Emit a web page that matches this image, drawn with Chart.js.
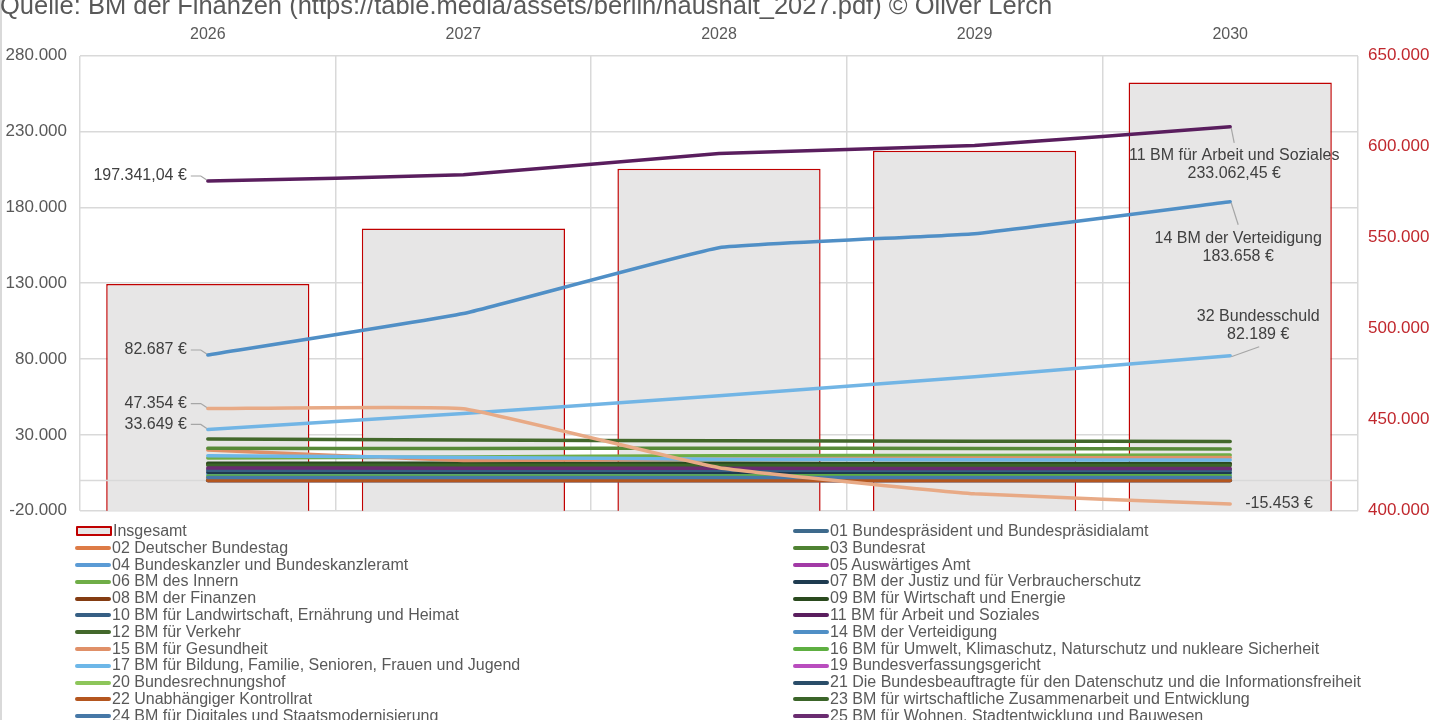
<!DOCTYPE html>
<html lang="de">
<head>
<meta charset="UTF-8">
<title>Bundeshaushalt 2026 - 2030</title>
<script src="https://cdn.jsdelivr.net/npm/chart.js"></script>
<style>
  html, body { margin: 0; padding: 0; background: #fff; overflow: hidden; }
  body { width: 1440px; height: 720px; position: relative; font-family: "Liberation Sans", Arial, sans-serif; }
  #rahmen { position: absolute; left: 0; top: 0; width: 1.5px; height: 720px; background: #D9D9D9; }
  #box { position: absolute; left: 0; top: -8px; width: 1440px; height: 542px; }
  #legende { position: absolute; left: 75px; top: 523px; width: 1365px; display: grid;
             grid-template-columns: 718px 647px; font-size: 16px; line-height: 16.8px; color: #595959; }
  .eintrag { display: flex; align-items: center; white-space: nowrap; }
  .eintrag i { display: inline-block; width: 36px; height: 4px; border-radius: 2px; margin-right: 1px; flex: none; }
  .eintrag i.balken { width: 32px; height: 6px; border: 2px solid #C00000; background: #E7E6E6; border-radius: 1px; margin-left: 1px; }
</style>
</head>
<body>
<div id="rahmen"></div>
<div id="box"><canvas id="grafik"></canvas></div>
<div id="legende"></div>

<script>
// Werte in Mio. Euro
const jahre = ['2026', '2027', '2028', '2029', '2030'];
const insgesamt = [524500, 555100, 587900, 597800, 635200];

const ep01 = [60, 60, 60, 60, 60];
const ep02 = [1250, 1250, 1250, 1250, 1250];
const ep03 = [40, 40, 40, 40, 40];
const ep04 = [4300, 4200, 4200, 4200, 4200];
const ep05 = [7400, 7300, 7200, 7200, 7200];
const ep06 = [14800, 15500, 16300, 16500, 16700];
const ep07 = [5400, 5400, 5300, 5300, 5300];
const ep08 = [10600, 10700, 10700, 10800, 10800];
const ep09 = [11400, 11300, 11300, 11200, 11200];
const ep10 = [6800, 6800, 6700, 6700, 6700];
const ep11 = [197341.04, 201500, 215400, 220700, 233062.45];
const ep12 = [27300, 26600, 26200, 25900, 25700];
const ep14 = [82687, 110000, 153400, 162600, 183658];
const ep15 = [20100, 13200, 14200, 14800, 15100];
const ep16 = [3000, 3000, 3000, 3100, 3100];
const ep17 = [16300, 15200, 14000, 13600, 13400];
const ep19 = [40, 40, 40, 40, 40];
const ep20 = [190, 190, 190, 190, 190];
const ep21 = [50, 50, 50, 50, 50];
const ep22 = [20, 20, 20, 20, 20];
const ep23 = [10100, 10000, 9900, 9900, 9900];
const ep24 = [1900, 1900, 1900, 1900, 1900];
const ep25 = [8200, 8100, 8000, 7900, 7900];
const ep30 = [21300, 21000, 21300, 21000, 20700];
const ep32 = [33649, 44200, 55800, 68400, 82189];
const ep60 = [47354, 47300, 8400, -8800, -15453];

const namen = [
  '01 Bundespräsident und Bundespräsidialamt', '02 Deutscher Bundestag', '03 Bundesrat',
  '04 Bundeskanzler und Bundeskanzleramt', '05 Auswärtiges Amt', '06 BM des Innern',
  '07 BM der Justiz und für Verbraucherschutz', '08 BM der Finanzen', '09 BM für Wirtschaft und Energie',
  '10 BM für Landwirtschaft, Ernährung und Heimat', '11 BM für Arbeit und Soziales', '12 BM für Verkehr',
  '14 BM der Verteidigung', '15 BM für Gesundheit',
  '16 BM für Umwelt, Klimaschutz, Naturschutz und nukleare Sicherheit',
  '17 BM für Bildung, Familie, Senioren, Frauen und Jugend', '19 Bundesverfassungsgericht',
  '20 Bundesrechnungshof', '21 Die Bundesbeauftragte für den Datenschutz und die Informationsfreiheit',
  '22 Unabhängiger Kontrollrat', '23 BM für wirtschaftliche Zusammenarbeit und Entwicklung',
  '24 BM für Digitales und Staatsmodernisierung', '25 BM für Wohnen, Stadtentwicklung und Bauwesen',
  '30 BM für Forschung, Technologie und Raumfahrt', '32 Bundesschuld', '60 Allgemeine Finanzverwaltung'
];
const reihen = [ep01, ep02, ep03, ep04, ep05, ep06, ep07, ep08, ep09, ep10, ep11, ep12, ep14,
                ep15, ep16, ep17, ep19, ep20, ep21, ep22, ep23, ep24, ep25, ep30, ep32, ep60];
const farben = ['#3E6A8C', '#DD7B46', '#4F8232', '#5B9BD5', '#A23AA6', '#6FAD47', '#1E3B50', '#843C12',
                '#2A4A1E', '#365F84', '#5A1E5E', '#43682B', '#508FC6', '#E09068', '#5EAF41', '#6DB7E8',
                '#B94DBE', '#8DC65A', '#2A4D69', '#B4561F', '#3B6529', '#4678A7', '#6A2C70', '#578A38',
                '#72B5E5', '#E8AA86'];

const titel = 'Quelle: BM der Finanzen (https://table.media/assets/berlin/haushalt_2027.pdf) \u00A9 Oliver Lerch';
const schrift = '"Liberation Sans", Arial, sans-serif';

function zahl(v, dez) {
  const teile = Math.abs(v).toFixed(dez).split('.');
  const ganz = teile[0].replace(/\B(?=(\d{3})+(?!\d))/g, '.');
  return (v < 0 ? '-' : '') + ganz + (teile[1] ? ',' + teile[1] : '');
}
function euro(v) {
  return zahl(v, Number.isInteger(v) ? 0 : 2) + ' \u20AC';
}

// Beschriftungen an Anfangs- und Endpunkten
const etiketten = {
  id: 'etiketten',
  afterDatasetsDraw(chart) {
    const ctx = chart.ctx;
    const punkt = (nr, j) => {
      const i = chart.data.datasets.findIndex(d => d.label.startsWith(nr + ' '));
      return { p: chart.getDatasetMeta(i).data[j], d: chart.data.datasets[i] };
    };
    ctx.save();
    ctx.font = '16px ' + schrift;
    ctx.fillStyle = '#404040';
    ctx.strokeStyle = '#A6A6A6';
    ctx.lineWidth = 1.2;
    ctx.textBaseline = 'middle';

    // links: Wert am ersten Punkt
    ['11', '14', '60', '32'].forEach(nr => {
      const { p, d } = punkt(nr, 0);
      ctx.beginPath();
      ctx.moveTo(p.x - 17, p.y - 5);
      ctx.lineTo(p.x - 7, p.y - 5);
      ctx.lineTo(p.x - 1, p.y - 1);
      ctx.stroke();
      ctx.textAlign = 'right';
      ctx.fillText(euro(d.data[0]), p.x - 21, p.y - 5);
    });

    // rechts: Name und Wert am letzten Punkt
    const rechts = [
      { nr: '11', lx: 4, ly: 16, tx: 4, ty: 29 },
      { nr: '14', lx: 8, ly: 23, tx: 8, ty: 37 },
      { nr: '32', lx: 29, ly: -9, tx: 28, ty: -39 }
    ];
    ctx.textAlign = 'center';
    rechts.forEach(r => {
      const { p, d } = punkt(r.nr, 4);
      ctx.beginPath();
      ctx.moveTo(p.x + 1, p.y + 1);
      ctx.lineTo(p.x + r.lx, p.y + r.ly);
      ctx.stroke();
      ctx.fillText(d.label, p.x + r.tx, p.y + r.ty);
      ctx.fillText(euro(d.data[4]), p.x + r.tx, p.y + r.ty + 18);
    });
    const { p, d } = punkt('60', 4);
    ctx.textAlign = 'left';
    ctx.fillText(euro(d.data[4]), p.x + 15, p.y);
    ctx.restore();
  }
};

// graue Achsenlinie bei 0 ueber den Balken
const nulllinie = {
  id: 'nulllinie',
  afterDatasetDraw(chart, args) {
    if (args.index !== 0) return;
    const y = chart.scales.y.getPixelForValue(0);
    const ctx = chart.ctx;
    ctx.save();
    ctx.strokeStyle = '#D9D9D9';
    ctx.lineWidth = 1.5;
    ctx.beginPath();
    ctx.moveTo(chart.chartArea.left, y);
    ctx.lineTo(chart.chartArea.right, y);
    ctx.stroke();
    ctx.restore();
  }
};

const datensaetze = [{
  type: 'bar',
  label: 'Insgesamt',
  data: insgesamt,
  yAxisID: 'y2',
  backgroundColor: '#E7E6E6',
  borderColor: '#C00000',
  borderWidth: 1.5,
  barPercentage: 0.795,
  categoryPercentage: 1,
  order: 2000
}];
reihen.forEach((werte, i) => {
  datensaetze.push({
    type: 'line',
    label: namen[i],
    data: werte,
    yAxisID: 'y',
    borderColor: farben[i],
    backgroundColor: farben[i],
    borderWidth: 3.5,
    borderCapStyle: 'round',
    pointRadius: 0,
    tension: 0.1,
    order: 1000 - i
  });
});

Chart.defaults.font.family = schrift;

const grafik = new Chart(document.getElementById('grafik'), {
  data: { labels: jahre, datasets: datensaetze },
  options: {
    responsive: true,
    maintainAspectRatio: false,
    animation: false,
    layout: { padding: { top: 0, right: 0, bottom: 10, left: 0 } },
    plugins: {
      legend: { display: false },
      tooltip: { enabled: false },
      title: {
        display: true,
        text: titel,
        align: 'start',
        color: '#595959',
        font: { size: 25.5, weight: 'normal' },
        padding: { top: 0, bottom: 0 }
      }
    },
    scales: {
      x: {
        position: 'top',
        offset: true,
        grid: { offset: true, color: '#D9D9D9', lineWidth: 1.5, drawTicks: false },
        border: { display: false },
        ticks: { color: '#595959', font: { size: 16 }, padding: 11 },
        afterFit: s => { s.height = 33; }
      },
      y: {
        position: 'left',
        min: -20000,
        max: 280000,
        grid: { color: '#D9D9D9', lineWidth: 1.5, drawTicks: false },
        border: { display: false },
        ticks: { stepSize: 50000, color: '#595959', font: { size: 17 }, padding: 13, callback: v => zahl(v, 0) },
        afterFit: s => { s.width = 80; }
      },
      y2: {
        position: 'right',
        min: 400000,
        max: 650000,
        grid: { display: false, drawTicks: false },
        border: { display: false },
        ticks: { stepSize: 50000, color: '#C0272D', font: { size: 17 }, padding: 10, callback: v => zahl(v, 0) },
        afterFit: s => { s.width = 82; }
      }
    }
  },
  plugins: [nulllinie, etiketten]
});

// Legende zweispaltig aus den Datensaetzen
const legende = document.getElementById('legende');
grafik.data.datasets.forEach(d => {
  const zeile = document.createElement('div');
  zeile.className = 'eintrag';
  const marke = document.createElement('i');
  if (d.type === 'bar') {
    marke.className = 'balken';
  } else {
    marke.style.background = d.borderColor;
  }
  zeile.appendChild(marke);
  zeile.appendChild(document.createTextNode(d.label));
  legende.appendChild(zeile);
});
</script>
</body>
</html>
